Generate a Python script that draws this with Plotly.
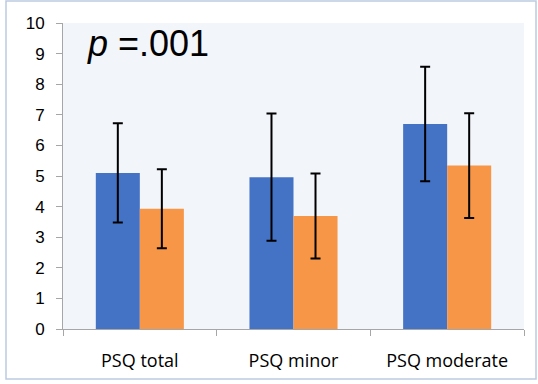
import plotly.graph_objects as go

categories = ["PSQ total", "PSQ minor", "PSQ moderate"]
group1_means = [5.10, 4.96, 6.70]
group1_sd = [1.62, 2.08, 1.87]
group2_means = [3.93, 3.69, 5.34]
group2_sd = [1.29, 1.39, 1.71]
y_ticks = list(range(0, 11))

fig = go.Figure()
fig.add_trace(go.Bar(
    x=categories, y=group1_means, name="Group 1",
    marker=dict(color="#4472C4", line=dict(width=0)),
    error_y=dict(type="data", array=group1_sd, visible=True, color="black", thickness=2, width=5),
))
fig.add_trace(go.Bar(
    x=categories, y=group2_means, name="Group 2",
    marker=dict(color="#F79646", line=dict(width=0)),
    error_y=dict(type="data", array=group2_sd, visible=True, color="black", thickness=2, width=5),
))

W, H = 538, 384
L, R, T, B = 63, 14, 23, 55
pw, ph = W - L - R, H - T - B

def px_to_paper_x(px):
    return (px - L) / pw

def px_to_paper_y(py):
    return (H - B - py) / ph

fig.add_shape(type="rect", xref="paper", yref="paper",
              x0=px_to_paper_x(6), x1=px_to_paper_x(536),
              y0=px_to_paper_y(379), y1=px_to_paper_y(1),
              line=dict(color="#BCCAE0", width=1.5), fillcolor="rgba(0,0,0,0)", layer="below")

fig.add_annotation(text="<i>p</i> =.001", xref="paper", yref="paper",
                   x=px_to_paper_x(85), y=px_to_paper_y(44), xanchor="left", yanchor="middle",
                   showarrow=False, font=dict(family="Liberation Sans, Arial", size=36, color="black"))

fig.update_layout(
    width=W, height=H,
    margin=dict(l=L, r=R, t=T, b=B, pad=0, autoexpand=False),
    paper_bgcolor="white",
    plot_bgcolor="#F2F5FA",
    barmode="group",
    bargap=0.427,
    bargroupgap=0,
    showlegend=False,
    font=dict(family="Liberation Sans, Arial", color="black"),
)
fig.update_yaxes(range=[0, 10], tickvals=y_ticks, showgrid=False, zeroline=False,
                 showline=True, linecolor="#A6A6A6", linewidth=1, automargin=False,
                 ticks="outside", ticklen=6, tickcolor="#A6A6A6",
                 tickfont=dict(family="Liberation Sans, Arial", size=17, color="black"),
                 ticklabelstandoff=8)
fig.update_xaxes(showgrid=False, showline=True, linecolor="#A6A6A6", linewidth=1, automargin=False,
                 ticks="outside", ticklen=6, tickcolor="#A6A6A6", tickson="boundaries",
                 tickfont=dict(family="Open Sans", size=18, color="black"),
                 ticklabelstandoff=15)

fig.write_html("out.html", config={"displayModeBar": False},
               post_script="document.body.style.margin='0';document.body.style.padding='0';")
